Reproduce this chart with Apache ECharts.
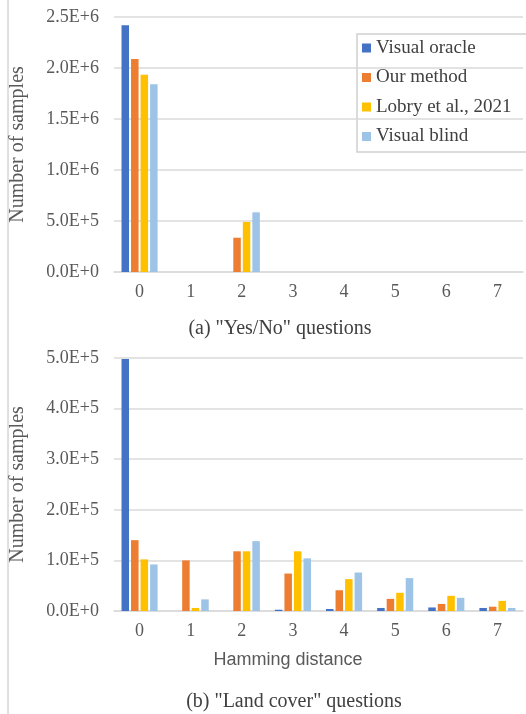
<!DOCTYPE html>
<html><head><meta charset="utf-8">
<script src="https://cdn.jsdelivr.net/npm/echarts@6/dist/echarts.min.js"></script>
<style>html,body{margin:0;padding:0;background:#fff}#c{width:526px;height:714px}</style>
</head><body><div id="c"></div>
<script>
const categories = ['0','1','2','3','4','5','6','7'];
const seriesNames = ['Visual oracle','Our method','Lobry et al., 2021','Visual blind'];
const colors = ['#4472C4','#ED7D31','#FFC000','#9DC3E6'];
// (a) Yes/No questions
const yesNoOracle = [2420000,0,0,0,0,0,0,0];
const yesNoOurs   = [2088000,0,336000,0,0,0,0,0];
const yesNoLobry  = [1934000,0,490000,0,0,0,0,0];
const yesNoBlind  = [1840000,0,585000,0,0,0,0,0];
// (b) Land cover questions
const lcOracle = [498000,0,0,2500,4000,6000,7000,6000];
const lcOurs   = [140000,100000,118000,74000,41000,24000,14000,8500];
const lcLobry  = [102000,6000,118000,118000,63000,36000,30000,20000];
const lcBlind  = [92000,23000,138000,104000,76000,65000,26000,6000];
const yTicksA = {min:0,max:2500000,interval:500000};
const yTicksB = {min:0,max:500000,interval:100000};

const serif = 'Liberation Serif';
const gridColor = '#dadada';
const fmt = v => v.toExponential(1).toUpperCase();

function xAx(idx){
  return {type:'category',gridIndex:idx,data:categories,boundaryGap:true,
    axisTick:{show:false},axisLine:{lineStyle:{color:gridColor,width:1.5}},
    axisLabel:{fontFamily:serif,fontSize:18,color:'#595959',margin:11}};
}
function yAx(idx,t){
  return {type:'value',gridIndex:idx,min:t.min,max:t.max,interval:t.interval,
    axisLine:{show:false},axisTick:{show:false},
    splitLine:{lineStyle:{color:gridColor,width:1.5}},
    axisLabel:{fontFamily:serif,fontSize:18,color:'#595959',margin:15,formatter:fmt},
    name:'Number of samples',nameLocation:'middle',nameRotate:90,nameGap:86,
    nameTextStyle:{fontFamily:serif,fontSize:20,color:'#595959'}};
}
const dataA=[yesNoOracle,yesNoOurs,yesNoLobry,yesNoBlind];
const dataB=[lcOracle,lcOurs,lcLobry,lcBlind];
const series=[];
seriesNames.forEach((n,i)=>{
  series.push({name:n,type:'bar',xAxisIndex:0,yAxisIndex:0,data:dataA[i],barWidth:7.5,barGap:'27%',
    itemStyle:{color:colors[i]}});
});
seriesNames.forEach((n,i)=>{
  series.push({name:n,type:'bar',xAxisIndex:1,yAxisIndex:1,data:dataB[i],barWidth:7.5,barGap:'27%',
    itemStyle:{color:colors[i]}});
});
const chart=echarts.init(document.getElementById('c'),null,{renderer:'canvas'});
chart.setOption({
  animation:false,
  color:colors,
  grid:[{left:108,top:17,width:415,height:255},{left:108,top:358,width:415,height:253}],
  xAxis:[xAx(0),xAx(1)],
  yAxis:[yAx(0,yTicksA),yAx(1,yTicksB)],
  legend:{data:seriesNames,orient:'vertical',left:357,top:34,icon:'rect',itemWidth:9,itemHeight:9,
    itemGap:9.5,padding:[4,0,6,5],borderWidth:0,
    textStyle:{fontFamily:serif,fontSize:19,lineHeight:20,color:'#404040'}},
  graphic:[
    {type:'line',shape:{x1:8,y1:0,x2:8,y2:714},style:{stroke:'#c0c0c0',lineWidth:1}},
    {type:'polyline',shape:{points:[[530,34],[357,34],[357,152],[530,152]]},style:{fill:null,stroke:'#d0d0d0',lineWidth:1.5}},
    {type:'text',x:280,y:329,style:{text:'(a) "Yes/No" questions',font:'20px "Liberation Serif"',fill:'#404040',align:'center',verticalAlign:'middle'}},
    {type:'text',x:288,y:660,style:{text:'Hamming distance',font:'18px "Liberation Sans"',fill:'#595959',align:'center',verticalAlign:'middle'}},
    {type:'text',x:294,y:702,style:{text:'(b) "Land cover" questions',font:'20px "Liberation Serif"',fill:'#404040',align:'center',verticalAlign:'middle'}}
  ],
  series:series
});
</script></body></html>
